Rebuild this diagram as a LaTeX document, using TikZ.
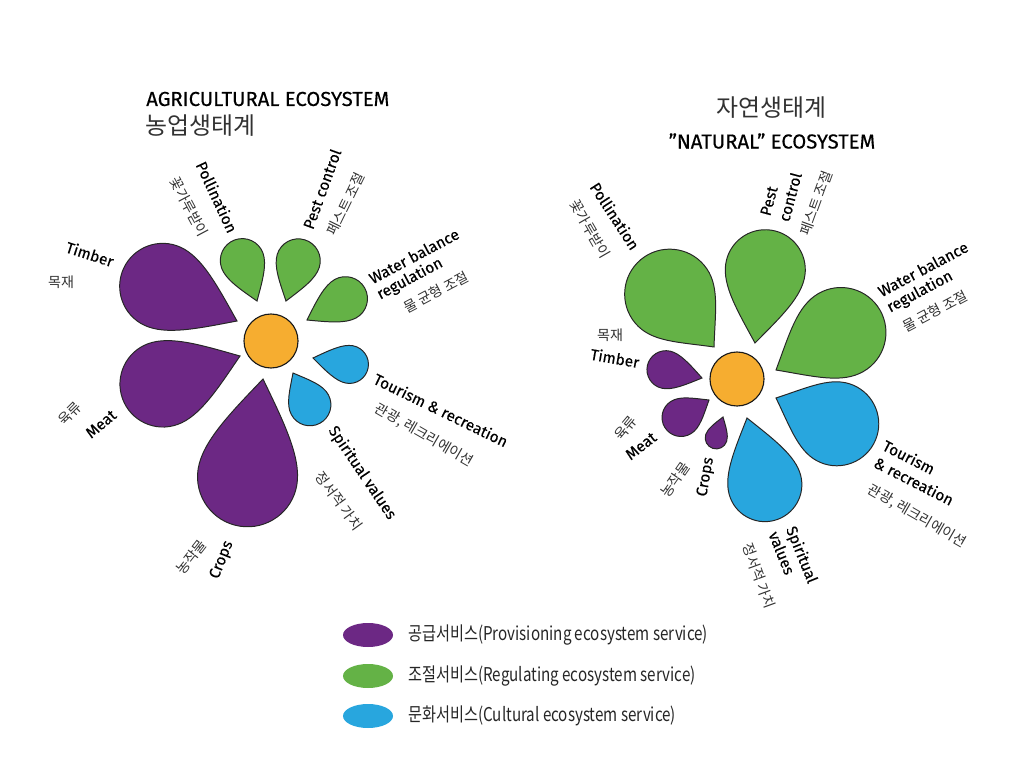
\documentclass[tikz,border=0pt]{standalone}
\usepackage{fontspec}
\setmainfont{Fira Sans}
\newfontfamily\medfont{Fira Sans}[FakeBold=0.4]
\newfontfamily\lblfont{Fira Sans}[FakeBold=0.25]
\newfontfamily\kr{Noto Sans CJK KR}
\newfontfamily\krleg{Noto Sans CJK KR}[FakeStretch=0.8]
\usetikzlibrary{shapes.geometric}

\definecolor{provcol}{RGB}{108,40,132}
\definecolor{regucol}{RGB}{100,178,70}
\definecolor{cultcol}{RGB}{40,166,222}
\definecolor{corecol}{RGB}{246,173,48}
\definecolor{krgray}{RGB}{50,50,50}

\tikzset{
  petalline/.style={draw=black!85, line width=0.7pt},
  prov/.style={petalline, fill=provcol},
  regu/.style={petalline, fill=regucol},
  cult/.style={petalline, fill=cultcol},
  core/.style={circle, draw=black!90, line width=0.8pt, fill=corecol, minimum size=1.35cm, inner sep=0pt},
  lbl/.style={font=\lblfont\fontsize{11}{12}\selectfont, inner sep=0pt},
  kor/.style={font=\kr\fontsize{10}{11}\selectfont, text=krgray, inner sep=0pt},
  ttl/.style={font=\medfont\fontsize{14.4}{16}\selectfont, inner sep=0pt},
  kttl/.style={font=\kr\fontsize{17}{19}\selectfont, text=krgray, inner sep=0pt},
  legdot/.style={ellipse, minimum width=1.25cm, minimum height=0.6cm, inner sep=0pt},
  legtxt/.style={font=\krleg\fontsize{13.5}{15}\selectfont, text=black!85, anchor=west, inner sep=0pt},
}

% petal: tip, angle, length, radius, style
\newcommand{\petal}[5]{%
  \begin{scope}[shift={#1}, rotate=#2]
    \pgfmathsetmacro{\pcen}{#3-#4}
    \draw[#5] (0,0) .. controls ({0.4*\pcen},{0.55*#4}) and ({\pcen-0.55*#4},{#4}) .. (\pcen,#4)
      .. controls ({\pcen+0.552*#4},{#4}) and (#3,{0.552*#4}) .. (#3,0)
      .. controls (#3,{-0.552*#4}) and ({\pcen+0.552*#4},{-#4}) .. (\pcen,-#4)
      .. controls ({\pcen-0.55*#4},{-#4}) and ({0.4*\pcen},{-0.55*#4}) .. cycle;
  \end{scope}}

\begin{document}
\begin{tikzpicture}[x=0.025cm, y=-0.025cm]
  \useasboundingbox (0,0) rectangle (1024,774);

  % titles
  \node[ttl, anchor=west] (titleA) at (146,99) {AGRICULTURAL ECOSYSTEM};
  \node[kttl, anchor=west] (ktitleA) at (145,126) {농업생태계};
  \node[kttl] (ktitleB) at (771,108) {자연생태계};
  \node[ttl] (titleB) at (772,141) {”NATURAL” ECOSYSTEM};

  % agricultural flower
  \petal{(237,321)}{155}{125}{43}{prov}
  \petal{(240,356)}{200}{125}{43}{prov}
  \petal{(263,379)}{261}{149}{50}{prov}
  \petal{(257,301)}{110}{65}{22}{regu}
  \petal{(286,301)}{73}{64}{22}{regu}
  \petal{(307,320)}{29}{66}{22}{regu}
  \petal{(313,358)}{-10}{56}{19}{cult}
  \petal{(293,373)}{-62}{57}{21}{cult}
  \node[core] (coreA) at (271,341) {};

  \node[lbl, rotate=-18] (timberA) at (90,254) {Timber};
  \node[kor] (ktimberA) at (61,282) {목재};
  \node[lbl, rotate=-65] (pollA) at (217,197) {Pollination};
  \node[kor, rotate=-62] (kpollA) at (189,207) {꽃가루받이};
  \node[lbl, rotate=70] (pestA) at (322,189) {Pest control};
  \node[kor, rotate=64] (kpestA) at (346,204) {페스트 조절};
  \node[lbl, rotate=28] (waterA) at (414,256) {Water balance};
  \node[lbl, rotate=28] (regA) at (410,279) {regulation};
  \node[kor, rotate=28] (kwaterA) at (436,292) {물 균형 조절};
  \node[lbl, rotate=-26] (tourA) at (441,410) {Tourism \& recreation};
  \node[kor, rotate=-30] (ktourA) at (424,435) {관광, 레크리에이션};
  \node[lbl, rotate=-56] (spirA) at (362,473) {Spiritual values};
  \node[kor, rotate=-54] (kspirA) at (339,501) {정서적 가치};
  \node[lbl, rotate=68] (cropsA) at (222,560) {Crops};
  \node[kor, rotate=52] (kcropsA) at (191,557) {농작물};
  \node[lbl, rotate=40] (meatA) at (101,424) {Meat};
  \node[kor, rotate=45] (kmeatA) at (70,414) {육류};

  % natural flower
  \petal{(714,347)}{130}{114}{45}{regu}
  \petal{(755,343)}{82}{114}{40}{regu}
  \petal{(776,370)}{30}{120}{45}{regu}
  \petal{(776,398)}{-23}{108}{42}{cult}
  \petal{(747,418)}{-75}{106}{37}{cult}
  \petal{(702,378)}{167}{56}{19}{prov}
  \petal{(709,400)}{212}{52}{19}{prov}
  \petal{(723,417)}{252}{33}{11}{prov}
  \node[core] (coreB) at (737,379) {};

  \node[lbl, rotate=-57] (pollB) at (615,216) {Pollination};
  \node[kor, rotate=-60] (kpollB) at (590,229) {꽃가루받이};
  \node[lbl, rotate=75] (pestB) at (769,201) {Pest};
  \node[lbl, rotate=75] (ctrlB) at (790,197) {control};
  \node[kor, rotate=70] (kpestB) at (816,203) {페스트 조절};
  \node[lbl, rotate=28] (waterB) at (923,269) {Water balance};
  \node[lbl, rotate=28] (regB) at (920,292) {regulation};
  \node[kor, rotate=28] (kwaterB) at (935,311) {물 균형 조절};
  \node[kor] (ktimberB) at (610,335) {목재};
  \node[lbl, rotate=-10] (timberB) at (615,358) {Timber};
  \node[kor, rotate=50] (kmeatB) at (626,428) {육류};
  \node[lbl, rotate=38] (meatB) at (641,446) {Meat};
  \node[kor, rotate=55] (kcropsB) at (675,480) {농작물};
  \node[lbl, rotate=80] (cropsB) at (706,477) {Crops};
  \node[lbl, rotate=-27] (tourB) at (909,457) {Tourism};
  \node[lbl, rotate=-27] (recB) at (914,481) {\& recreation};
  \node[kor, rotate=-30] (ktourB) at (917,516) {관광, 레크리에이션};
  \node[lbl, rotate=-68] (spirB) at (801,555) {Spiritual};
  \node[lbl, rotate=-68] (valB) at (782,553) {values};
  \node[kor, rotate=-70] (kspirB) at (759,576) {정서적 가치};

  % legend
  \node[legdot, fill=provcol] (legP) at (368,635) {};
  \node[legdot, fill=regucol] (legR) at (368,676) {};
  \node[legdot, fill=cultcol] (legC) at (368,716) {};
  \node[legtxt] (legPt) at (408,635) {공급서비스(Provisioning ecosystem service)};
  \node[legtxt] (legRt) at (408,676) {조절서비스(Regulating ecosystem service)};
  \node[legtxt] (legCt) at (408,716) {문화서비스(Cultural ecosystem service)};
\end{tikzpicture}
\end{document}
